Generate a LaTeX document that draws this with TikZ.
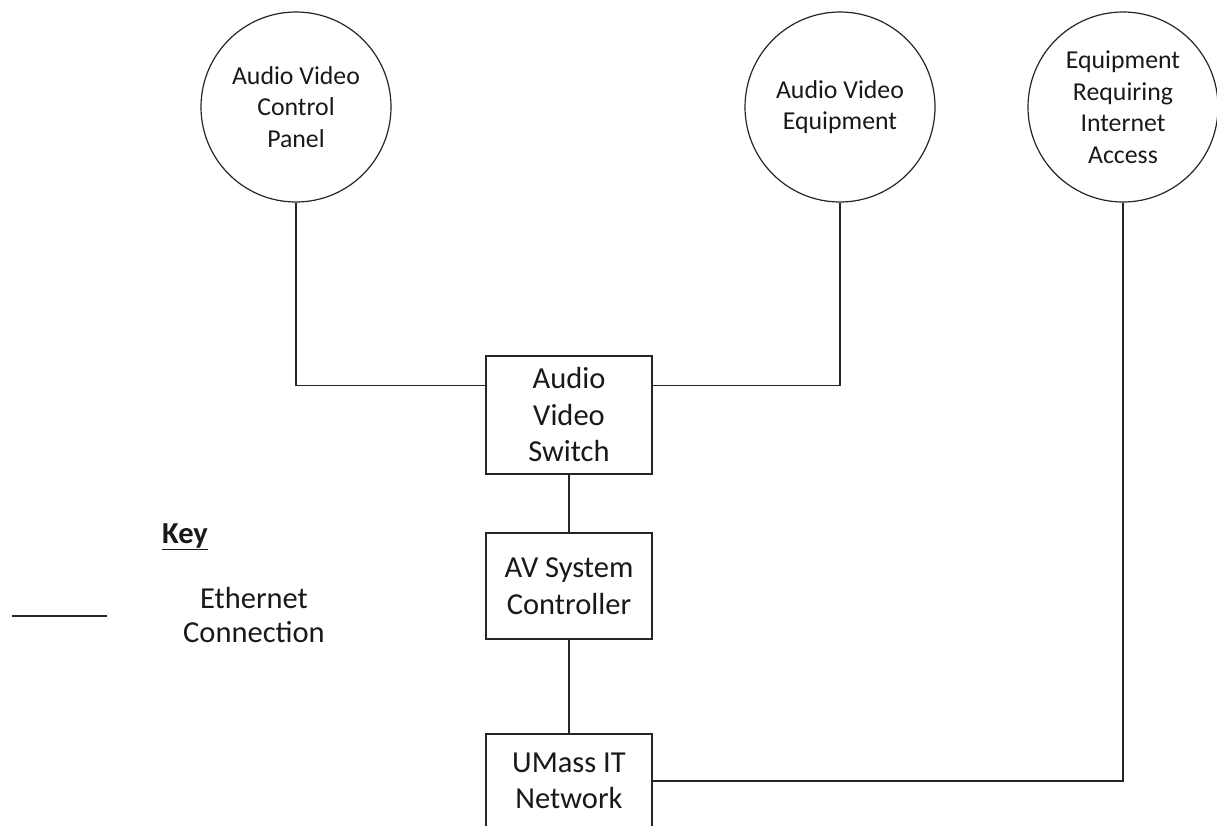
\documentclass[tikz,border=0pt]{standalone}
\usepackage{fontspec}
\setmainfont{Carlito}
\usetikzlibrary{calc}
\begin{document}
\begin{tikzpicture}[x=1pt,y=-1pt,
  wire/.style={draw=black!85,line width=1.3pt},
  devcircle/.style={circle,draw=black!85,line width=1.2pt,minimum size=190pt,inner sep=0pt,align=center,
    font=\fontsize{25.8}{31.5}\selectfont,text=black!90},
  devbox/.style={rectangle,draw=black!85,line width=1.3pt,minimum width=166pt,inner sep=0pt,align=center,
    font=\fontsize{30.5}{36.5}\selectfont,text=black!90},
  keytext/.style={align=center,font=\fontsize{30.5}{34}\selectfont,text=black!90}]
\clip (0,0) rectangle (1217,825);
\useasboundingbox (0,0) rectangle (1217,825);
\fill[white] (0,0) rectangle (1217,825);

\node[devcircle] (avcp) at (296,107) {Audio Video\\Control\\Panel};
\node[devcircle] (ave) at (840,107) {Audio Video\\Equipment};
\node[devcircle] (eqreq) at (1123,107) {Equipment\\Requiring\\Internet\\Access};

\node[devbox,minimum height=118pt] (sw) at (569,415) {Audio\\Video\\Switch};
\node[devbox,minimum height=106pt] (ctrl) at (569,586) {AV System\\Controller};
\node[devbox,minimum height=94pt] (net) at (569,781) {UMass IT\\Network};

\draw[wire] (avcp.south) |- ($(sw.north west)!0.25!(sw.south west)$);
\draw[wire] (ave.south) |- ($(sw.north east)!0.25!(sw.south east)$);
\draw[wire] (sw.south) -- (ctrl.north);
\draw[wire] (ctrl.south) -- (net.north);
\draw[wire] (net.east) -| (eqreq.south);

\node[font=\fontsize{30.5}{36}\selectfont\bfseries,text=black!90] (key) at (185,537) {\underline{Key}};
\coordinate (k1) at (12,616);
\coordinate (k2) at (107,616);
\draw[wire] (k1) -- (k2);
\node[keytext] (eth) at (254,615) {Ethernet\\Connection};
\end{tikzpicture}
\end{document}
